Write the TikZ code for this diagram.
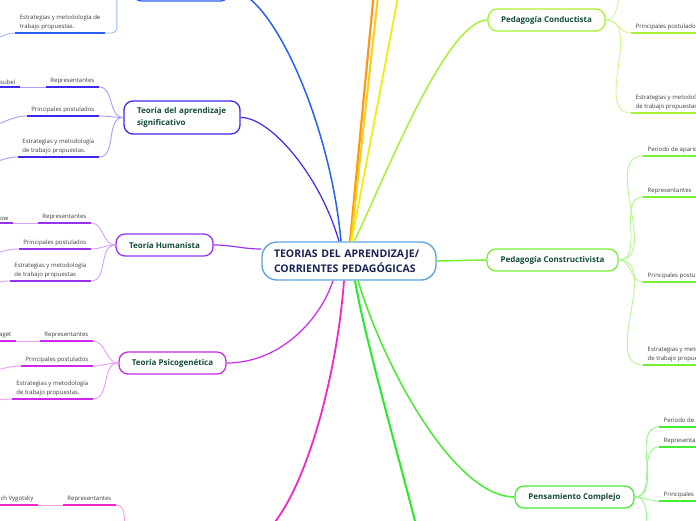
\documentclass[tikz,border=0pt]{standalone}
\usepackage{fontspec}
\setmainfont{Open Sans}
\usetikzlibrary{positioning}
\definecolor{rootblue}{RGB}{95,165,220}
\definecolor{rootink}{RGB}{25,35,85}
\definecolor{topicink}{RGB}{20,75,60}
\definecolor{subink}{RGB}{60,60,60}
\definecolor{blueb}{RGB}{40,95,245}
\definecolor{signifb}{RGB}{60,40,235}
\definecolor{humanb}{RGB}{150,50,240}
\definecolor{psicob}{RGB}{205,40,235}
\definecolor{vygb}{RGB}{240,40,200}
\definecolor{orangeb}{RGB}{255,150,20}
\definecolor{goldb}{RGB}{255,205,20}
\definecolor{yellowb}{RGB}{235,240,20}
\definecolor{conductb}{RGB}{170,240,50}
\definecolor{constructb}{RGB}{120,240,50}
\definecolor{greenb}{RGB}{40,235,40}
\definecolor{complejob}{RGB}{70,235,50}

\begin{document}
\begin{tikzpicture}[
    x=1pt, y=-1pt,
    root/.style={draw=rootblue,line width=1.4pt,fill=white,rounded corners=15pt,text width=150pt,inner xsep=12pt,minimum height=38pt,align=left,font=\fontsize{10.5}{15}\selectfont\bfseries,text=rootink},
    topic/.style={draw,line width=1.3pt,fill=white,rounded corners=9pt,minimum height=22pt,font=\fontsize{8}{12}\selectfont\bfseries,text=topicink},
    sub/.style={inner xsep=4.5pt,inner ysep=2.5pt,align=left,font=\fontsize{6}{9}\selectfont,text=subink},
    branch/.style={line width=1.5pt},
    twig/.style={line width=0.9pt},
    uline/.style={line width=1.8pt}
]
\useasboundingbox (0,0) rectangle (696,520);

% main topics
\node[root] (root) at (349,261) {TEORIAS DEL APRENDIZAJE/\\CORRIENTES PEDAGÓGICAS};
\node[topic,draw=blueb,minimum width=97pt] (blue) at (181,-10) {};
\node[topic,draw=signifb,text width=90pt,inner xsep=13pt,align=left,minimum height=33pt] (signif) at (182,117.5) {Teoría del aprendizaje\\significativo};
\node[topic,draw=humanb,minimum width=97pt] (human) at (164.5,245) {Teoría Humanista};
\node[topic,draw=psicob,minimum width=107pt] (psico) at (172.5,363) {Teoría Psicogenética};
\node[topic,draw=conductb,minimum width=117pt] (conduct) at (546.5,20) {Pedagogía Conductista};
\node[topic,draw=constructb,minimum width=131pt] (construct) at (552.5,260) {Pedagogía Constructivista};
\node[topic,draw=complejob,minimum width=119pt] (complejo) at (574.5,497) {Pensamiento Complejo};

% ends of branches running off the page
\coordinate (topA) at (377,-40);
\coordinate (topB) at (382,-40);
\coordinate (topC) at (405,-40);
\coordinate (vygW) at (133,545);
\coordinate (vygE) at (240,545);
\coordinate (botG) at (425,560);

% main branches
\draw[branch,blueb] (blue.east) .. controls (270,-10) and (330,120) .. ([xshift=-8pt]root.north);
\draw[branch,signifb,line width=1.2pt] (signif.east) .. controls (270,117) and (320,175) .. ([xshift=-10pt]root.north);
\draw[branch,orangeb,line width=2.2pt] ([xshift=1pt]root.north) -- (topA);
\draw[branch,goldb,line width=2pt] ([xshift=2pt]root.north) -- (topB);
\draw[branch,yellowb,line width=1.8pt] ([xshift=2.5pt]root.north) -- (topC);
\draw[branch,conductb] ([xshift=5pt]root.north) .. controls (380,190) and (445,20) .. (conduct.west);
\draw[branch,humanb,line width=1.2pt] (human.east) to[out=0,in=180] ([yshift=12pt]root.west);
\draw[branch,constructb] (root.east) -- (construct.west);
\draw[branch,psicob,line width=1.2pt] ([xshift=-16pt]root.south) .. controls (320,320) and (280,363) .. (psico.east);
\draw[branch,vygb,line width=1.8pt] ([xshift=-5pt]root.south) .. controls (335,400) and (290,545) .. (vygE);
\draw[branch,greenb,line width=2pt] ([xshift=6pt]root.south) .. controls (365,340) and (400,460) .. (botG);
\draw[branch,complejob] ([xshift=9pt]root.south) .. controls (385,370) and (455,497) .. (complejo.west);

% top-left topic
\node[sub,anchor=south east] (bEst) at (105,33) {Estrategias y metodología de\\trabajo propuestas.};
\coordinate (bEstL) at (-15,41);
\draw[twig,blueb!45,rounded corners=5pt] (bEst.south east) -| ([xshift=-15pt]blue.west) -- (blue.west);
\draw[twig,blueb!45] (bEst.south west) to[out=180,in=0] (bEstL);
\draw[uline,blueb] (bEst.south west) -- (bEst.south east);

% Teoria del aprendizaje significativo
\node[sub,anchor=south east] (sRep) at (99,87) {Representantes};
\node[sub,anchor=south east] (sAus) at (20,87) {Ausubel};
\node[sub,anchor=south east] (sPos) at (99,116) {Principales postulados};
\node[sub,anchor=south east] (sEst) at (99,157) {Estrategias y metodología\\de trabajo propuestas.};
\coordinate (sPosL) at (-15,126);
\coordinate (sEstL) at (-15,163);
\draw[twig,signifb!45] (sRep.south east) to[out=0,in=180] (signif.west);
\draw[twig,signifb!45] (sPos.south east) to[out=0,in=180] (signif.west);
\draw[twig,signifb!45] (sEst.south east) to[out=0,in=180] (signif.west);
\draw[twig,signifb!45] (sAus.south east) -- (sRep.south west);
\draw[twig,signifb!45] (sPos.south west) to[out=180,in=0] (sPosL);
\draw[twig,signifb!45] (sEst.south west) to[out=180,in=0] (sEstL);
\draw[uline,signifb] (sRep.south west) -- (sRep.south east);
\draw[uline,signifb] (sAus.south west) -- (sAus.south east);
\draw[uline,signifb] (sPos.south west) -- (sPos.south east);
\draw[uline,signifb] (sEst.south west) -- (sEst.south east);

% Teoria Humanista
\node[sub,anchor=south east] (hRep) at (91,223) {Representantes};
\node[sub,anchor=south east] (hMas) at (13,223) {Maslow};
\node[sub,anchor=south east] (hPos) at (91,249) {Principales postulados};
\node[sub,anchor=south east] (hEst) at (91,281) {Estrategias y metodología\\de trabajo propuestas};
\coordinate (hPosL) at (-15,254);
\coordinate (hEstL) at (-15,283);
\draw[twig,humanb!45] (hRep.south east) to[out=0,in=180] (human.west);
\draw[twig,humanb!45] (hPos.south east) to[out=0,in=180] (human.west);
\draw[twig,humanb!45] (hEst.south east) to[out=0,in=180] (human.west);
\draw[twig,humanb!45] (hMas.south east) -- (hRep.south west);
\draw[twig,humanb!45] (hPos.south west) to[out=180,in=0] (hPosL);
\draw[twig,humanb!45] (hEst.south west) to[out=180,in=0] (hEstL);
\draw[uline,humanb] (hRep.south west) -- (hRep.south east);
\draw[uline,humanb] (hMas.south west) -- (hMas.south east);
\draw[uline,humanb] (hPos.south west) -- (hPos.south east);
\draw[uline,humanb] (hEst.south west) -- (hEst.south east);

% Teoria Psicogenetica
\node[sub,anchor=south east] (pRep) at (93,341) {Representantes};
\node[sub,anchor=south east] (pPia) at (16,341) {Piaget};
\node[sub,anchor=south east] (pPos) at (93,366) {Principales postulados};
\node[sub,anchor=south east] (pEst) at (93,399) {Estrategias y metodología\\de trabajo propuestas.};
\coordinate (pPosL) at (-15,371);
\coordinate (pEstL) at (-15,401);
\draw[twig,psicob!45] (pRep.south east) to[out=0,in=180] (psico.west);
\draw[twig,psicob!45] (pPos.south east) to[out=0,in=180] (psico.west);
\draw[twig,psicob!45] (pEst.south east) to[out=0,in=180] (psico.west);
\draw[twig,psicob!45] (pPia.south east) -- (pRep.south west);
\draw[twig,psicob!45] (pPos.south west) to[out=180,in=0] (pPosL);
\draw[twig,psicob!45] (pEst.south west) to[out=180,in=0] (pEstL);
\draw[uline,psicob] (pRep.south west) -- (pRep.south east);
\draw[uline,psicob] (pPia.south west) -- (pPia.south east);
\draw[uline,psicob] (pPos.south west) -- (pPos.south east);
\draw[uline,psicob] (pEst.south west) -- (pEst.south east);

% Vygotsky (topic below the page)
\node[sub,anchor=south east] (vRep) at (116,505) {Representantes};
\node[sub,anchor=south east] (vVyg) at (38,505) {Lev Semiónovich Vygotsky};
\draw[twig,vygb!45] (vRep.south east) to[out=0,in=180] (vygW);
\draw[twig,vygb!45] (vVyg.south east) -- (vRep.south west);
\draw[uline,vygb] (vRep.south west) -- (vRep.south east);
\draw[uline,vygb] (vVyg.south west) -- (vVyg.south east);

% Pedagogia Conductista
\node[sub,anchor=south west] (cPos) at (631,33) {Principales postulados};
\node[sub,anchor=south west] (cEst) at (631,113) {Estrategias y metodología\\de trabajo propuestas.};
\coordinate (cTop) at (631,-20);
\draw[twig,conductb!55] (conduct.east) to[out=0,in=180] (cTop);
\draw[twig,conductb!55] (conduct.east) to[out=0,in=180] (cPos.south west);
\draw[twig,conductb!55] (conduct.east) to[out=0,in=180] (cEst.south west);
\draw[uline,conductb] (cPos.south west) -- (cPos.south east);
\draw[uline,conductb] (cEst.south west) -- (cEst.south east);

% Pedagogia Constructivista
\node[sub,anchor=south west] (kPer) at (643,156) {Periodo de aparición};
\node[sub,anchor=south west] (kRep) at (643,197) {Representantes};
\node[sub,anchor=south west] (kPos) at (643,282) {Principales postulados};
\node[sub,anchor=south west] (kEst) at (643,365) {Estrategias y metodología\\de trabajo propuestas};
\draw[twig,constructb!55] (construct.east) to[out=0,in=180] (kPer.south west);
\draw[twig,constructb!55] (construct.east) to[out=0,in=180] (kRep.south west);
\draw[twig,constructb!55] (construct.east) to[out=0,in=180] (kPos.south west);
\draw[twig,constructb!55] (construct.east) to[out=0,in=180] (kEst.south west);
\draw[uline,constructb] (kPer.south west) -- (kPer.south east);
\draw[uline,constructb] (kRep.south west) -- (kRep.south east);
\draw[uline,constructb] (kPos.south west) -- (kPos.south east);
\draw[uline,constructb] (kEst.south west) -- (kEst.south east);

% Pensamiento Complejo
\node[sub,anchor=south west] (xPer) at (659,427) {Periodo de aparición};
\node[sub,anchor=south west] (xRep) at (659,447) {Representantes};
\node[sub,anchor=south west] (xPos) at (659,501) {Principales postulados};
\coordinate (xLow) at (659,550);
\draw[twig,complejob!55] (complejo.east) to[out=0,in=180] (xPer.south west);
\draw[twig,complejob!55] (complejo.east) to[out=0,in=180] (xRep.south west);
\draw[twig,complejob!55] (complejo.east) to[out=0,in=180] (xPos.south west);
\draw[twig,complejob!55] (complejo.east) to[out=0,in=180] (xLow);
\draw[uline,complejob] (xPer.south west) -- (xPer.south east);
\draw[uline,complejob] (xRep.south west) -- (xRep.south east);
\draw[uline,complejob] (xPos.south west) -- (xPos.south east);
\end{tikzpicture}
\end{document}
